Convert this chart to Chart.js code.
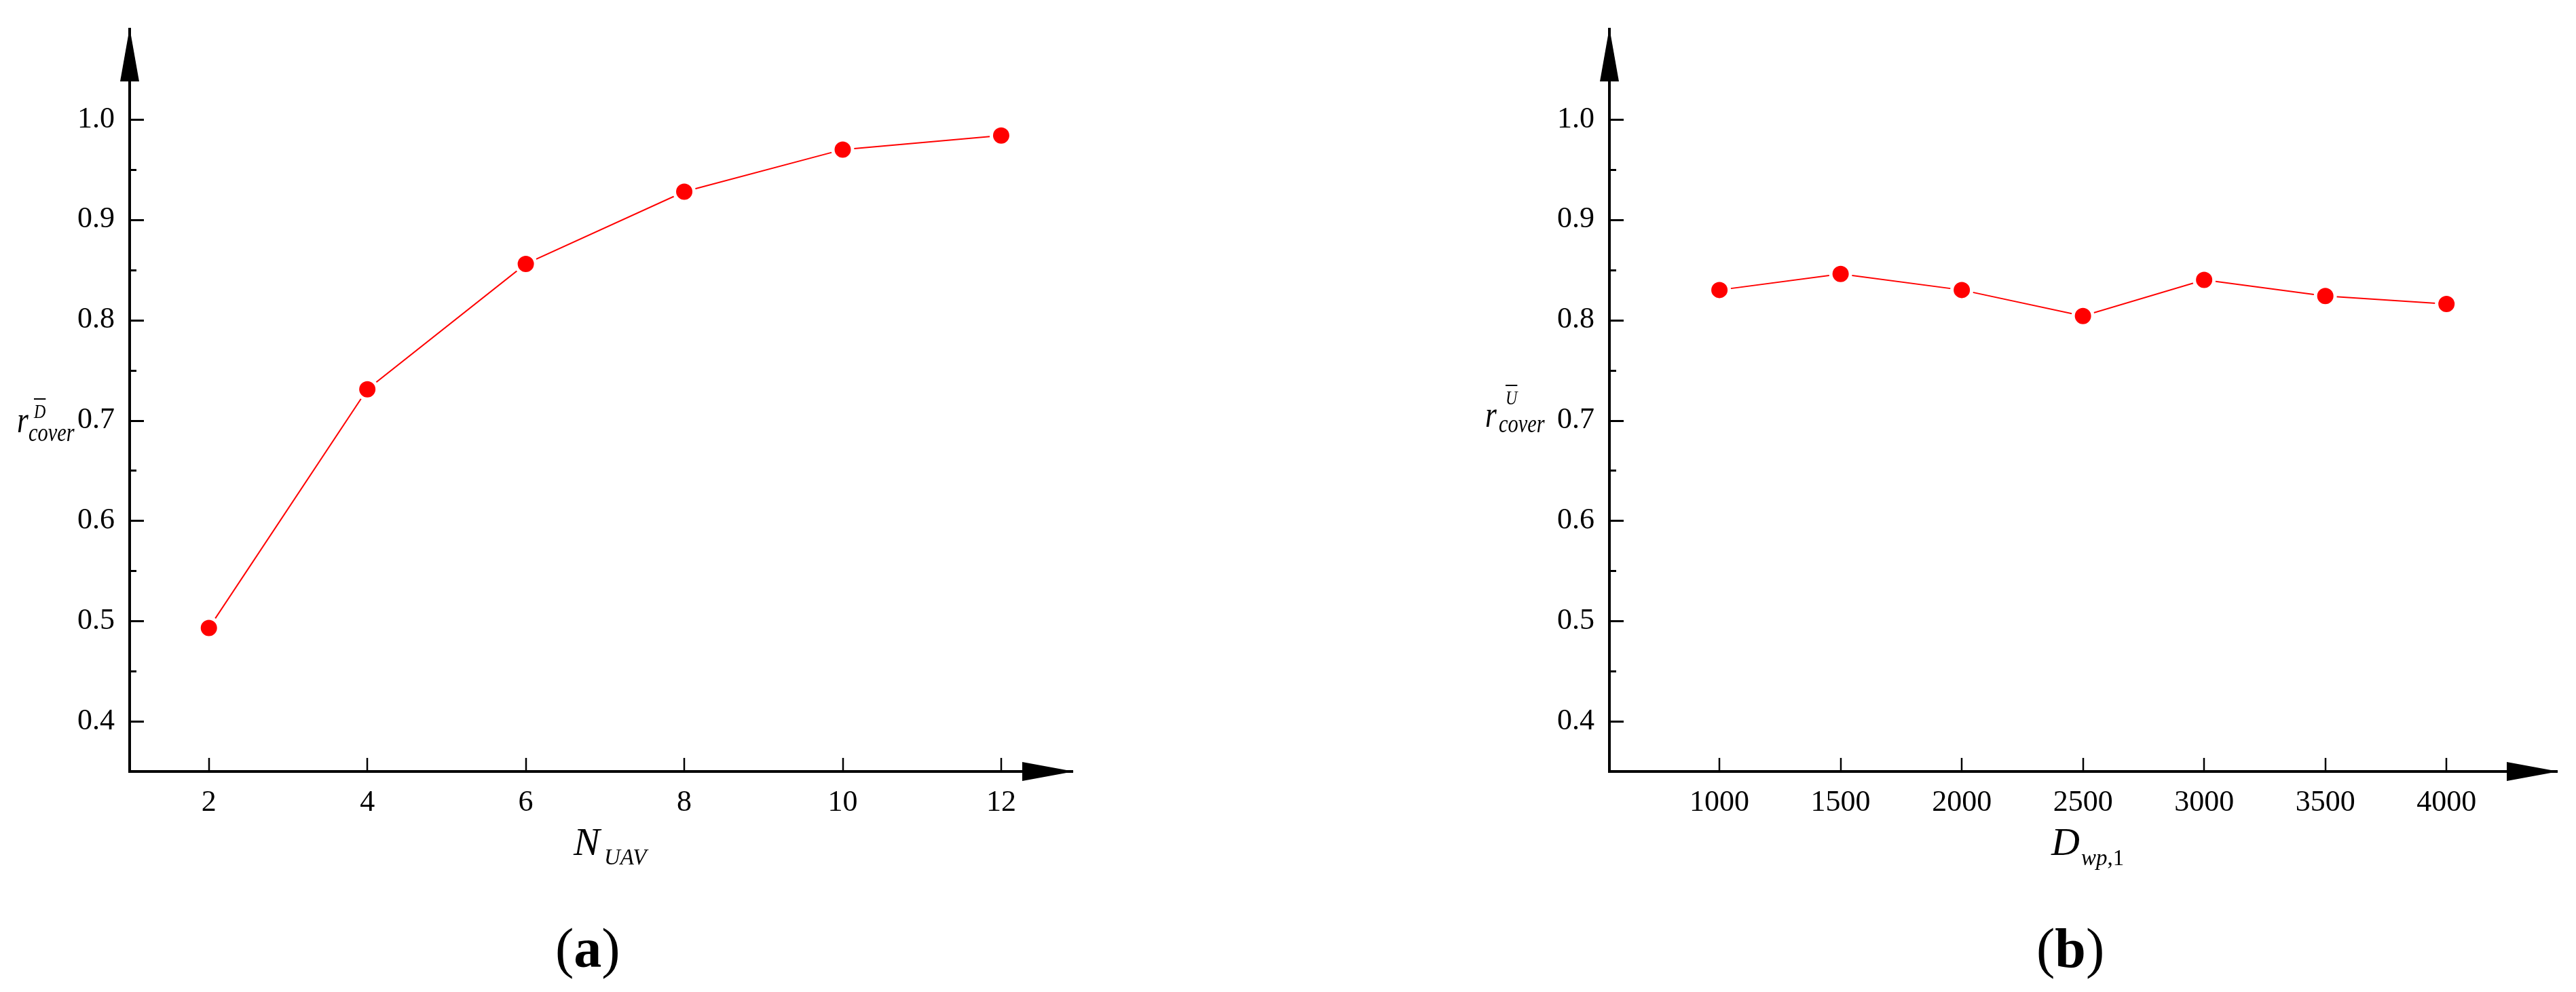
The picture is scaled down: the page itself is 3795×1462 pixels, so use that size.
<!DOCTYPE html>
<html>
<head>
<meta charset="utf-8">
<script src="https://cdn.jsdelivr.net/npm/chart.js@4.4.1/dist/chart.umd.min.js"></script>
<style>
html,body{margin:0;padding:0;background:#fff;}
#wrap{position:relative;width:3795px;height:1462px;overflow:hidden;background:#fff;}
canvas{position:absolute;top:0;}
.t{position:absolute;font-family:"Liberation Serif","Times New Roman",serif;color:#000;white-space:nowrap;line-height:1;}
.i{font-style:italic;}
.b{font-weight:bold;}
.n{transform:scaleX(0.8);transform-origin:0 0;}
.ov{text-decoration:overline;text-decoration-thickness:2px;}
</style>
</head>
<body>
<div id="wrap">
  <canvas id="chartA" width="1900" height="1462" style="left:0;width:1900px;height:1462px"></canvas>
  <canvas id="chartB" width="1895" height="1462" style="left:1900px;width:1895px;height:1462px"></canvas>
</div>
<script>
// ---- data ----
const uavCounts = [2, 4, 6, 8, 10, 12];
const coverageByUav = [0.493, 0.731, 0.856, 0.928, 0.970, 0.984];
const waypointDistances = [1000, 1500, 2000, 2500, 3000, 3500, 4000];
const coverageByDistance = [0.830, 0.846, 0.830, 0.804, 0.840, 0.824, 0.816];
const yMajorTicks = [0.4, 0.5, 0.6, 0.7, 0.8, 0.9, 1.0];
const yMinorTicks = [0.45, 0.55, 0.65, 0.75, 0.85, 0.95];

const FONT = '"Liberation Serif", "Times New Roman", serif';

const axisDecor = {
  id: 'axisDecor',
  afterDraw(chart, args, opts) {
    const {ctx, chartArea, scales} = chart;
    const {left, right, top, bottom} = chartArea;
    const x = scales.x, y = scales.y;
    ctx.save();
    ctx.strokeStyle = '#000';
    ctx.lineCap = 'butt';
    ctx.lineWidth = 3;
    const seg = (x1, y1, x2, y2) => { ctx.beginPath(); ctx.moveTo(x1, y1); ctx.lineTo(x2, y2); ctx.stroke(); };
    opts.yMajor.forEach(v => { const p = Math.round(y.getPixelForValue(v)) + 0.5; seg(left, p, left + 21, p); });
    opts.yMinor.forEach(v => { const p = Math.round(y.getPixelForValue(v)) + 0.5; seg(left, p, left + 10, p); });
    ctx.lineWidth = 2.5;
    opts.xMajor.forEach(v => { const p = Math.round(x.getPixelForValue(v)); seg(p, bottom, p, bottom - 20); });
    ctx.fillStyle = '#000';
    // y arrow
    ctx.beginPath();
    ctx.moveTo(left, top - 2);
    ctx.lineTo(left - 14, top + 77);
    ctx.lineTo(left + 14, top + 77);
    ctx.closePath();
    ctx.fill();
    // x arrow
    ctx.beginPath();
    ctx.moveTo(right + 2, bottom);
    ctx.lineTo(right - 74, bottom - 14);
    ctx.lineTo(right - 74, bottom + 14);
    ctx.closePath();
    ctx.fill();
    ctx.restore();
  }
};

function makeChart(id, xs, ys, xMin, xMax, yAxisWidth, padRight) {
  const points = xs.map((v, i) => ({x: v, y: ys[i]}));
  return new Chart(document.getElementById(id), {
    type: 'line',
    data: {
      datasets: [{
        data: points,
        borderColor: '#ff0000',
        borderWidth: 2,
        backgroundColor: '#ff0000',
        pointBackgroundColor: '#ff0000',
        pointBorderColor: '#ffffff',
        pointBorderWidth: 5,
        pointRadius: 14.5,
        pointHoverRadius: 14.5,
        tension: 0,
        fill: false
      }]
    },
    options: {
      responsive: false,
      devicePixelRatio: 1,
      animation: false,
      events: [],
      layout: {padding: {left: 0, right: padRight, top: 43, bottom: 0}},
      plugins: {
        legend: {display: false},
        tooltip: {enabled: false},
        title: {display: false},
        axisDecor: {yMajor: yMajorTicks, yMinor: yMinorTicks, xMajor: xs}
      },
      scales: {
        x: {
          type: 'linear',
          min: xMin,
          max: xMax,
          grid: {display: false, drawTicks: false},
          border: {display: true, color: '#000', width: 4},
          afterBuildTicks: s => { s.ticks = xs.map(v => ({value: v})); },
          afterFit: s => { s.height = 325; },
          ticks: {
            color: '#000',
            padding: 20,
            maxRotation: 0,
            autoSkip: false,
            font: {family: FONT, size: 44, lineHeight: 1.2},
            callback: v => String(v)
          }
        },
        y: {
          type: 'linear',
          min: 0.35,
          max: 1.09,
          grid: {display: false, drawTicks: false},
          border: {display: true, color: '#000', width: 4},
          afterBuildTicks: s => { s.ticks = yMajorTicks.map(v => ({value: v})); },
          afterFit: s => { s.width = yAxisWidth; },
          ticks: {
            color: '#000',
            padding: 22,
            autoSkip: false,
            font: {family: FONT, size: 44, lineHeight: 0.9},
            callback: v => Number(v).toFixed(1)
          }
        }
      }
    },
    plugins: [axisDecor]
  });
}

makeChart('chartA', uavCounts, coverageByUav, 1, 12.9, 191, 1900 - 1580);
makeChart('chartB', waypointDistances, coverageByDistance, 546, 4456, 2371 - 1900, 1895 - (3767 - 1900));

// ---- HTML text (axis titles and panel labels) ----
const wrap = document.getElementById('wrap');
function put(html, x, baseline, size, cls, align) {
  const d = document.createElement('div');
  d.className = 't ' + (cls || '');
  d.style.fontSize = size + 'px';
  d.innerHTML = html;
  d.style.top = (baseline - 0.8375 * size) + 'px';
  wrap.appendChild(d);
  if (align === 'center') {
    d.style.left = (x - d.offsetWidth / 2) + 'px';
  } else {
    d.style.left = x + 'px';
  }
  return d;
}
// (a) y title
put('r', 25, 637, 54, 'i n');
put('cover', 42, 650, 38, 'i n');
put('<span class="ov">D</span>', 50, 616, 30, 'i n');
// (a) x title
put('N', 845, 1261, 58, 'i');
put('UAV', 890, 1275, 33, 'i');
// (a) label
put('(<span class="b">a</span>)', 866, 1426, 82, '', 'center');

// (b) y title
put('r', 2188, 629, 54, 'i n');
put('cover', 2208, 637, 38, 'i n');
put('<span class="ov">U</span>', 2218, 596, 30, 'i n');
// (b) x title
put('D', 3022, 1261, 58, 'i');
put('<span class="i">wp</span>,1', 3066, 1276, 33, '');
// (b) label
put('(<span class="b">b</span>)', 3050, 1426, 82, '', 'center');
</script>
</body>
</html>
